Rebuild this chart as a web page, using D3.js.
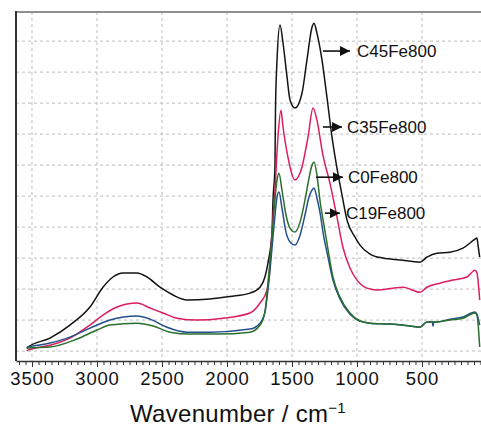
<!DOCTYPE html>
<html>
<head>
<meta charset="UTF-8">
<script src="https://d3js.org/d3.v7.min.js"></script>
<style>
  body { margin: 0; background: #fff; }
  text { font-family: Arial, "Liberation Sans", sans-serif; fill: #111; }
  .grid line { stroke: #bdbdbd; stroke-width: 1; stroke-dasharray: 3,3; }
  .series { fill: none; stroke-width: 1.5; stroke-linejoin: round; }
</style>
</head>
<body>
<svg id="chart" width="481" height="426"></svg>
<script>
// spectra: [wavenumber, intensity (a.u.)]
const c45Fe800 = [[3540,1.10],[3531,1.13],[3362,1.42],[3208,1.84],[3054,2.42],[2954,3.06],[2877,3.39],[2800,3.52],[2692,3.52],[2615,3.39],[2515,3.06],[2415,2.81],[2308,2.65],[2131,2.68],[1977,2.76],[1823,2.87],[1746,3.06],[1708,3.39],[1685,3.84],[1654,4.81],[1646,5.87],[1631,6.94],[1627,8.77],[1615,10.39],[1592,11.52],[1569,10.94],[1538,9.84],[1515,9.10],[1477,8.84],[1423,9.32],[1385,10.39],[1346,11.45],[1331,11.58],[1308,11.26],[1269,10.39],[1231,9.19],[1192,7.90],[1154,6.90],[1115,6.03],[1077,5.23],[1015,4.68],[977,4.42],[900,4.13],[800,4.00],[669,3.94],[515,3.87],[462,4.03],[385,4.16],[285,4.19],[185,4.32],[92,4.61],[77,4.65],[69,4.42],[56,4.03]];

const c35Fe800 = [[3540,1.00],[3531,1.03],[3362,1.19],[3208,1.42],[3054,1.84],[2954,2.16],[2846,2.42],[2692,2.55],[2592,2.39],[2492,2.23],[2385,2.06],[2231,2.00],[2031,2.06],[1823,2.23],[1746,2.55],[1692,2.97],[1669,3.71],[1654,4.81],[1631,6.19],[1608,7.90],[1585,8.77],[1569,8.23],[1531,7.26],[1477,6.52],[1423,6.94],[1377,7.90],[1338,8.84],[1308,8.45],[1262,7.32],[1208,6.42],[1154,5.32],[1108,4.35],[1054,3.68],[1000,3.29],[923,3.03],[846,2.97],[723,3.03],[646,3.06],[515,2.90],[462,3.06],[362,3.19],[262,3.29],[154,3.39],[92,3.61],[77,3.52],[69,3.29],[56,2.65]];

const c0Fe800 = [[3540,1.08],[3531,1.10],[3362,1.13],[3154,1.39],[3000,1.68],[2900,1.84],[2692,1.90],[2569,1.81],[2438,1.61],[2285,1.55],[2077,1.55],[1823,1.61],[1746,1.84],[1708,2.26],[1685,3.19],[1662,4.26],[1638,5.55],[1615,6.52],[1600,6.74],[1577,6.19],[1546,5.39],[1515,4.97],[1477,4.84],[1438,5.16],[1400,5.87],[1369,6.58],[1346,7.00],[1331,7.10],[1308,6.68],[1285,5.87],[1254,5.06],[1231,4.48],[1185,3.39],[1131,2.74],[1054,2.23],[977,1.97],[900,1.90],[746,1.87],[592,1.81],[515,1.77],[462,1.94],[385,1.94],[285,2.00],[185,2.06],[92,2.23],[77,2.16],[56,1.13]];

const c19Fe800 = [[3540,1.12],[3531,1.13],[3362,1.26],[3208,1.45],[3054,1.74],[2900,2.00],[2692,2.13],[2592,2.03],[2462,1.77],[2308,1.61],[2131,1.61],[1823,1.71],[1746,1.90],[1708,2.26],[1685,2.97],[1662,3.94],[1638,5.06],[1615,5.97],[1600,6.13],[1577,5.61],[1546,4.84],[1515,4.52],[1477,4.42],[1438,4.74],[1400,5.39],[1369,5.97],[1346,6.19],[1331,6.26],[1308,5.94],[1285,5.48],[1254,4.65],[1231,4.19],[1185,3.29],[1131,2.68],[1054,2.19],[977,1.97],[900,1.90],[746,1.87],[592,1.81],[515,1.77],[462,1.94],[420,1.94],[415,1.80],[410,1.94],[385,1.94],[285,2.03],[185,2.10],[92,2.26],[77,2.19],[56,1.84]];

const seriesNames = ['C45Fe800', 'C35Fe800', 'C0Fe800', 'C19Fe800'];
const seriesColors = ['#141414', '#dc1f5c', '#2b6f2e', '#244f8c'];
const xTicks = [3500, 3000, 2500, 2000, 1500, 1000, 500];

const svg = d3.select('#chart');
const plotLeft = 16, plotRight = 481, plotTop = 12, plotBottom = 361;

const x = d3.scaleLinear().domain([3623, 46]).range([plotLeft, plotRight]);
const y = d3.scaleLinear().domain([0.68, 11.94]).range([plotBottom, plotTop]);

// grid
const grid = svg.append('g').attr('class', 'grid');
grid.selectAll('line.v').data(xTicks).enter().append('line')
  .attr('x1', d => x(d)).attr('x2', d => x(d))
  .attr('y1', plotTop).attr('y2', plotBottom);
grid.selectAll('line.h').data(y.ticks(11).filter(d => d >= 1 && d <= 11)).enter().append('line')
  .attr('x1', plotLeft).attr('x2', plotRight)
  .attr('y1', d => y(d)).attr('y2', d => y(d));

// frame
svg.append('line').attr('x1', plotLeft).attr('x2', plotRight).attr('y1', plotTop).attr('y2', plotTop)
  .attr('stroke', '#6a6a6a').attr('stroke-width', 1.5);
svg.append('line').attr('x1', plotLeft).attr('x2', plotLeft).attr('y1', plotTop - 1).attr('y2', plotBottom)
  .attr('stroke', '#333').attr('stroke-width', 2);

// spectra
const line = d3.line().x(d => x(d[0])).y(d => y(d[1])).curve(d3.curveMonotoneX);
const allSeries = [c45Fe800, c35Fe800, c19Fe800, c0Fe800];
const allColors = [seriesColors[0], seriesColors[1], seriesColors[3], seriesColors[2]];
allSeries.forEach((s, i) => {
  svg.append('path').attr('class', 'series').attr('d', line(s)).attr('stroke', allColors[i]);
});

// x axis: minor ticks every 50, major every 500
const minor = d3.range(3600, 49, -50);
svg.append('g').attr('transform', `translate(0,${plotBottom})`)
  .call(d3.axisBottom(x).tickValues(minor).tickSize(4).tickFormat(''))
  .call(g => g.select('.domain').remove())
  .call(g => g.selectAll('line').attr('stroke', '#333'));
const xAxis = svg.append('g').attr('transform', `translate(0,${plotBottom})`)
  .call(d3.axisBottom(x).tickValues(xTicks).tickFormat(d3.format('d'))
    .tickSize(6).tickPadding(5).tickSizeOuter(0));
xAxis.select('.domain').attr('stroke', '#333').attr('stroke-width', 1.5);
xAxis.selectAll('line').attr('stroke', '#333');
xAxis.selectAll('text').attr('font-size', 18.5).attr('letter-spacing', 0.8)
  .attr('font-family', 'Arial, "Liberation Sans", sans-serif').attr('fill', '#111');

// axis title
const title = svg.append('text').attr('x', 238).attr('y', 422).attr('text-anchor', 'middle')
  .attr('font-size', 24).attr('letter-spacing', 0.3);
title.append('tspan').text('Wavenumber / cm');
title.append('tspan').attr('font-size', 15).attr('dy', -9).text('\u22121');

// labels with arrows
svg.append('defs').append('marker').attr('id', 'arr')
  .attr('viewBox', '0 0 10 10').attr('refX', 10).attr('refY', 5)
  .attr('markerWidth', 10).attr('markerHeight', 10).attr('markerUnits', 'userSpaceOnUse')
  .attr('orient', 'auto')
  .append('path').attr('d', 'M0,0L10,5L0,10Z').attr('fill', '#111');

const labelAnchors = [
  {from: 1262, to: 1054, v: 10.68, tx: 1000},
  {from: 1262, to: 1115, v: 8.23, tx: 1077},
  {from: 1315, to: 1108, v: 6.61, tx: 1070},
  {from: 1246, to: 1131, v: 5.45, tx: 1085}
];
seriesNames.forEach((name, i) => {
  const a = labelAnchors[i];
  svg.append('line').attr('x1', x(a.from)).attr('x2', x(a.to))
    .attr('y1', y(a.v)).attr('y2', y(a.v))
    .attr('stroke', '#111').attr('stroke-width', 1.6).attr('marker-end', 'url(#arr)');
  svg.append('text').attr('x', x(a.tx)).attr('y', y(a.v)).attr('dy', '0.36em')
    .attr('font-size', 17).text(name);
});
</script>
</body>
</html>
